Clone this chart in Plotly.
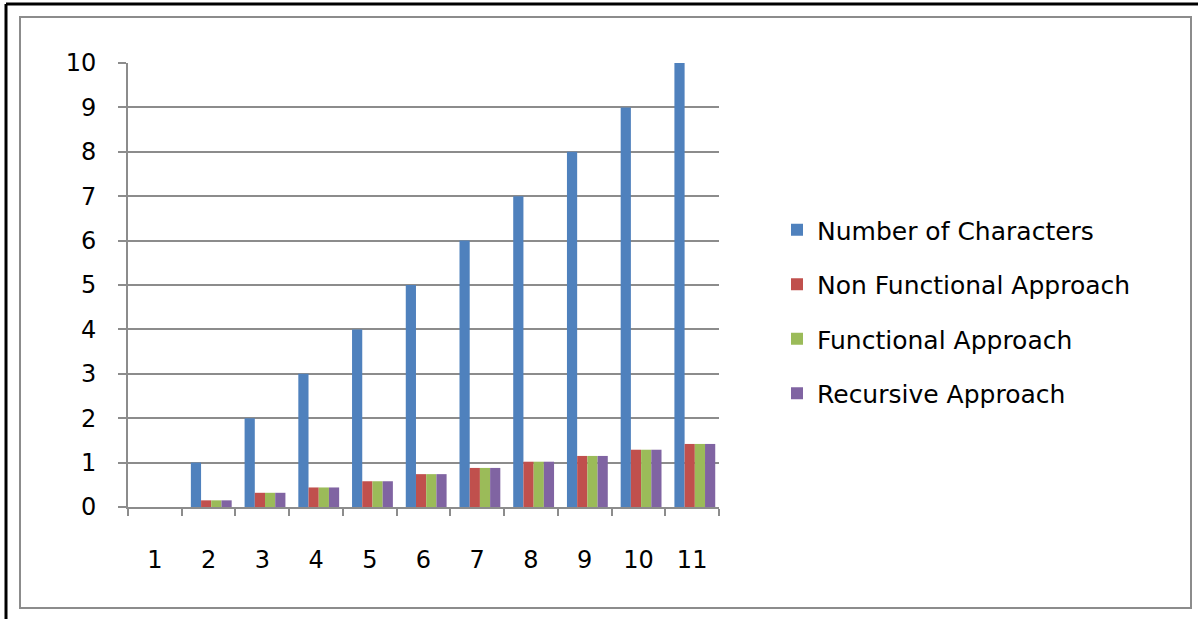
import plotly.graph_objects as go

W, H = 1198, 619

# Data
categories = ["1", "2", "3", "4", "5", "6", "7", "8", "9", "10", "11"]
num_characters = [0, 1, 2, 3, 4, 5, 6, 7, 8, 9, 10]
non_functional = [0, 0.15, 0.32, 0.44, 0.58, 0.74, 0.88, 1.02, 1.15, 1.29, 1.42]
functional = [0, 0.15, 0.32, 0.44, 0.58, 0.74, 0.88, 1.02, 1.15, 1.29, 1.42]
recursive = [0, 0.15, 0.32, 0.44, 0.58, 0.74, 0.88, 1.02, 1.15, 1.29, 1.42]

series = [
    ("Number of Characters", num_characters, "#4F81BD", -0.33),
    ("Non Functional Approach", non_functional, "#C0504D", -0.14),
    ("Functional Approach", functional, "#9BBB59", 0.05),
    ("Recursive Approach", recursive, "#8064A2", 0.24),
]

FONT = "DejaVu Sans"
FS = 24
LEGEND_FS = 25

fig = go.Figure()
for i, (name, vals, color, off) in enumerate(series):
    fig.add_trace(go.Bar(
        x=categories, y=vals, name=name,
        marker=dict(color=color, line=dict(width=0)),
        offset=off, width=0.19, legendgroup=f"g{i}",
    ))

def px_x(x):
    return x / W

def px_y(y):
    return 1 - y / H

shapes = [
    # outer black frame (top and left edges)
    dict(type="line", xref="paper", yref="paper", x0=px_x(6), x1=1.0, y0=px_y(4), y1=px_y(4),
         line=dict(color="black", width=3)),
    dict(type="line", xref="paper", yref="paper", x0=px_x(6), x1=px_x(6), y0=px_y(4), y1=0,
         line=dict(color="black", width=3)),
    # inner chart-area frame
    dict(type="rect", xref="paper", yref="paper", x0=px_x(20), x1=px_x(1191), y0=px_y(608), y1=px_y(17),
         line=dict(color="#8C8C8C", width=2)),
]

fig.update_layout(
    width=W, height=H,
    margin=dict(l=0, r=0, t=0, b=0, autoexpand=False),
    paper_bgcolor="white", plot_bgcolor="white",
    barmode="overlay",
    shapes=shapes,
    font=dict(family=FONT, size=FS, color="black"),
    showlegend=True,
    legend=dict(
        x=px_x(777), y=px_y(207), xanchor="left", yanchor="top",
        font=dict(family=FONT, size=LEGEND_FS, color="black"),
        tracegroupgap=19, bgcolor="rgba(0,0,0,0)",
    ),
    xaxis=dict(
        domain=[px_x(128), px_x(719)], automargin=False,
        type="category", categoryorder="array", categoryarray=categories,
        tickson="boundaries", ticks="outside", ticklen=7, tickcolor="#8C8C8C", tickwidth=2,
        showline=True, linecolor="#8C8C8C", linewidth=2,
        showgrid=False, ticklabelstandoff=30,
        tickfont=dict(family=FONT, size=FS, color="black"),
    ),
    yaxis=dict(
        domain=[px_y(507), px_y(63)], automargin=False,
        range=[0, 10], tickvals=[0, 1, 2, 3, 4, 5, 6, 7, 8, 9, 10],
        ticks="outside", ticklen=8, tickcolor="#8C8C8C", tickwidth=2,
        showline=True, linecolor="#8C8C8C", linewidth=2,
        showgrid=True, gridcolor="#8C8C8C", gridwidth=2,
        zeroline=False, ticklabelstandoff=17,
        tickfont=dict(family=FONT, size=FS, color="black"),
    ),
)

fig.write_html("out.html")
